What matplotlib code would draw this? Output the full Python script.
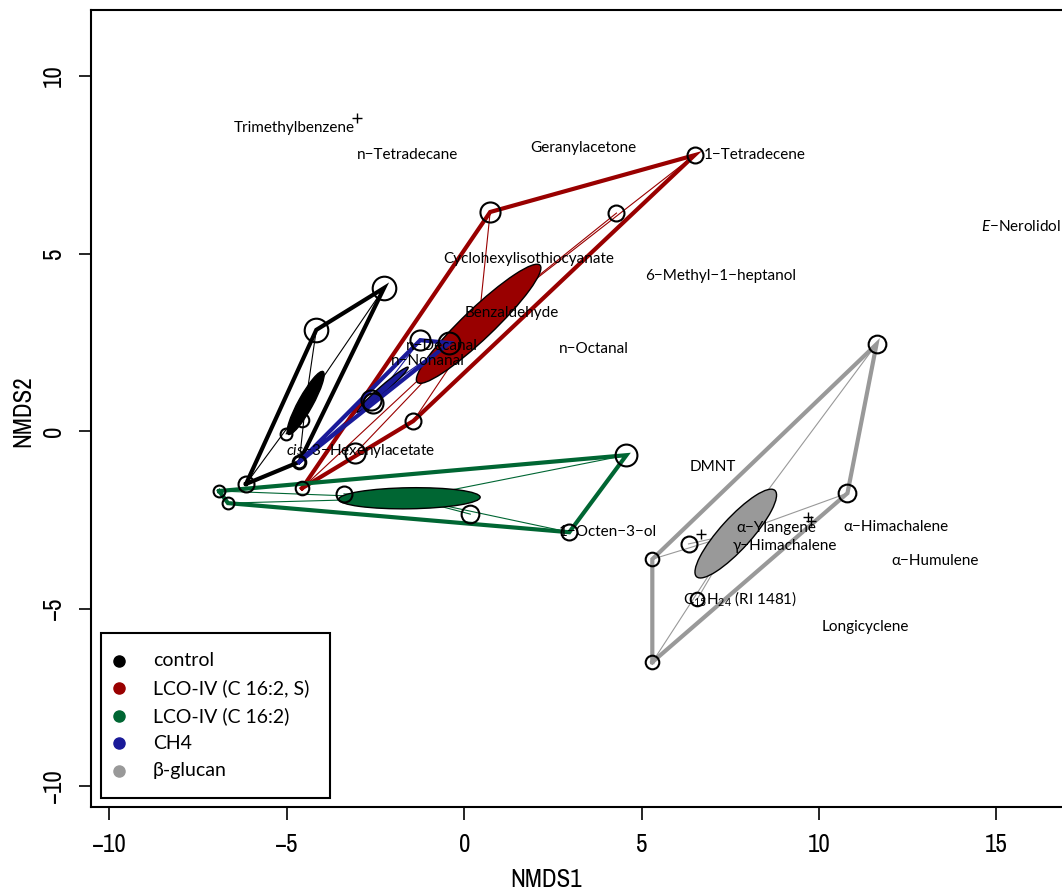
import numpy as np
import matplotlib
matplotlib.use("Agg")
import matplotlib.pyplot as plt
from matplotlib.patches import Ellipse, Rectangle
from matplotlib import font_manager

# --- data (NMDS site scores per treatment) ---
ctrl_x = [-4.17, -2.26, -6.15, -5.02, -4.65, -4.57]
ctrl_y = [2.85, 4.03, -1.49, -0.08, -0.87, 0.31]
ctrl_size = [2.0, 2.0, 1.35, 1.0, 1.15, 1.15]

lcos_x = [0.73, 6.49, 4.29, -1.44, -4.57, -3.07]
lcos_y = [6.17, 7.77, 6.14, 0.28, -1.61, -0.62]
lcos_size = [1.7, 1.35, 1.35, 1.35, 1.15, 1.7]

lco_x = [4.57, -6.91, -6.66, -3.39, 0.17, 2.96]
lco_y = [-0.68, -1.69, -2.03, -1.77, -2.34, -2.85]
lco_size = [1.85, 1.0, 1.0, 1.35, 1.5, 1.35]

ch4_x = [-1.24, -0.42, -2.62, -2.57, -4.65]
ch4_y = [2.56, 2.48, 0.87, 0.79, -0.87]
ch4_size = [1.7, 1.85, 1.7, 1.7, 1.0]

glu_x = [11.62, 10.80, 5.30, 5.30, 6.32, 6.57]
glu_y = [2.45, -1.75, -3.61, -6.51, -3.18, -4.73]
glu_size = [1.5, 1.5, 1.15, 1.15, 1.35, 1.15]

group_names = ["control", "LCO-IV (C 16:2, S)", "LCO-IV (C 16:2)", "CH4", "β-glucan"]

# species scores (labelled)
species = ["Trimethylbenzene", "n−Tetradecane", "Geranylacetone", "1−Tetradecene",
           "$\\it{E}$−Nerolidol", "Cyclohexylisothiocyanate", "6−Methyl−1−heptanol",
           "Benzaldehyde", "n−Decanal", "n−Nonanal", "n−Octanal",
           "$\\it{cis}$−3−Hexenylacetate", "DMNT", "1−Octen−3−ol", "α−Ylangene",
           "γ−Himachalene", "α−Himachalene", "α−Humulene",
           "C$_{15}$H$_{24}$ (RI 1481)", "Longicyclene"]
sp_x = [-4.79, -1.61, 3.36, 8.18, 15.68, 1.81, 7.22, 1.35, -0.62, -1.02, 3.64,
        -2.93, 7.0, 4.06, 8.80, 9.03, 12.16, 13.26, 7.76, 11.31]
sp_y = [8.54, 7.77, 7.97, 7.77, 5.77, 4.85, 4.37, 3.32, 2.39, 1.97, 2.31,
        -0.56, -1.01, -2.85, -2.73, -3.24, -2.70, -3.66, -4.73, -5.52]
# species without room for a label
plus_x = [-3.02, 6.66, 9.70, 9.76]
plus_y = [8.82, -2.90, -2.42, -2.54]

# --- style ---
colors = ["#000000", "#990000", "#006633", "#1a1a99", "#999999"]
avail = sorted({f.name for f in font_manager.fontManager.ttflist})
narrow = [n for n in avail if "Narrow" in n or "Condensed" in n]
tick_font = narrow[0] if narrow else "DejaVu Sans"
plt.rcParams["font.family"] = ["Lato", "DejaVu Sans"]
plt.rcParams["mathtext.fontset"] = "custom"
plt.rcParams["mathtext.rm"] = "Lato"
plt.rcParams["mathtext.it"] = "Lato:italic"


def hull(px, py):
    pts = sorted(set(zip(px, py)))
    def cross(o, a, b):
        return (a[0] - o[0]) * (b[1] - o[1]) - (a[1] - o[1]) * (b[0] - o[0])
    lower, upper = [], []
    for p in pts:
        while len(lower) >= 2 and cross(lower[-2], lower[-1], p) <= 0:
            lower.pop()
        lower.append(p)
    for p in reversed(pts):
        while len(upper) >= 2 and cross(upper[-2], upper[-1], p) <= 0:
            upper.pop()
        upper.append(p)
    h = lower[:-1] + upper[:-1]
    h.append(h[0])
    return np.array(h)


fig = plt.figure(figsize=(10.62, 8.94), dpi=100)
ax = fig.add_axes([91 / 1062, 87 / 894, 980 / 1062, 797 / 894])

groups = [(ctrl_x, ctrl_y, ctrl_size), (lcos_x, lcos_y, lcos_size),
          (lco_x, lco_y, lco_size), (ch4_x, ch4_y, ch4_size),
          (glu_x, glu_y, glu_size)]

for (gx, gy, gs), col in zip(groups, colors):
    gx = np.array(gx); gy = np.array(gy)
    cx, cy = gx.mean(), gy.mean()
    # spider
    for x, y in zip(gx, gy):
        ax.plot([cx, x], [cy, y], color=col, lw=0.8, zorder=2)
    # se ellipse
    cov = np.cov(np.vstack([gx, gy])) / len(gx)
    vals, vecs = np.linalg.eigh(cov)
    ang = np.degrees(np.arctan2(vecs[1, 1], vecs[0, 1]))
    ax.add_patch(Ellipse((cx, cy), 2 * np.sqrt(vals[1]), 2 * np.sqrt(vals[0]),
                         angle=ang, facecolor=col, edgecolor="black", lw=1.0, zorder=3))
    # hull
    h = hull(gx, gy)
    ax.plot(h[:, 0], h[:, 1], color=col, lw=3.0, zorder=4, solid_joinstyle="miter")
    # sites
    for x, y, s in zip(gx, gy, gs):
        ax.plot(x, y, "o", mfc="none", mec="black", mew=1.5, ms=s * 8.5, zorder=5)

for t, x, y in zip(species, sp_x, sp_y):
    ax.text(x, y, t, ha="center", va="center", fontsize=11, zorder=6)
ax.plot(plus_x, plus_y, "+", color="black", ms=7, mew=1.0, zorder=6)

ax.set_xlim(-10.52, 17.1)
ax.set_ylim(-10.59, 11.86)
ax.set_xticks([-10, -5, 0, 5, 10, 15])
ax.set_yticks([-10, -5, 0, 5, 10])
for s in ax.spines.values():
    s.set_linewidth(1.5)
ax.spines["right"].set_visible(False)
ax.tick_params(length=9, width=1.2, labelsize=18, pad=10)
for lab in ax.get_xticklabels() + ax.get_yticklabels():
    lab.set_fontfamily(tick_font)
for lab in ax.get_yticklabels():
    lab.set_rotation(90)
    lab.set_va("center")
ax.set_xlabel("NMDS1", fontsize=18, family=tick_font)
ax.set_ylabel("NMDS2", fontsize=18, family=tick_font)
ax.xaxis.set_label_coords((546 - 91) / 980, -0.077)
ax.yaxis.set_label_coords(-0.058, 0.497)

# legend box (drawn in axes fraction)
ax.add_patch(Rectangle((0.0102, 0.0113), 0.2337, 0.207, transform=ax.transAxes,
                       facecolor="white", edgecolor="black", lw=1.5, zorder=7))
row_y = [0.1832, 0.1493, 0.1142, 0.0803, 0.0452]
for c, name, ry in zip(colors, group_names, row_y):
    ax.plot(0.0286, ry, "o", color=c, ms=8, transform=ax.transAxes, zorder=8)
    ax.text(0.0633, ry, name, fontsize=14, va="center", ha="left",
            transform=ax.transAxes, zorder=8)

fig.savefig("out.png", dpi=100)
